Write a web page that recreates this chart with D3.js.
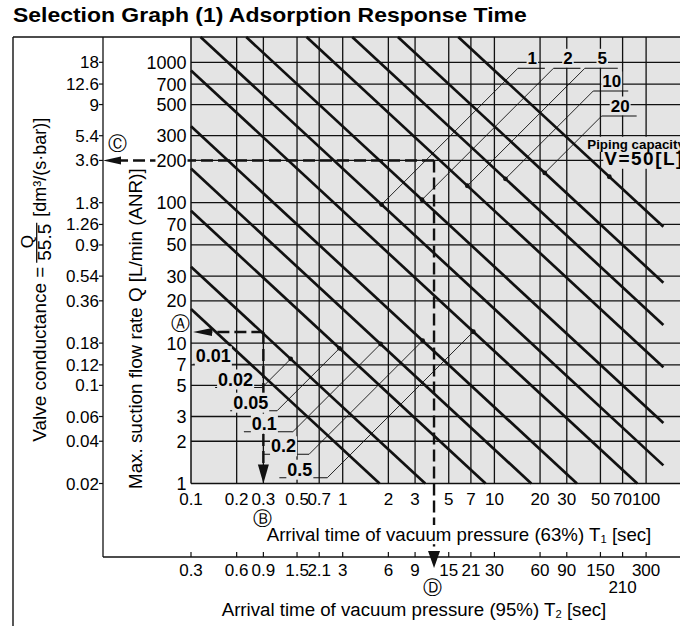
<!DOCTYPE html>
<html><head><meta charset="utf-8">
<script src="https://cdn.jsdelivr.net/npm/d3@7"></script>
<style>
body{margin:0;background:#fff}
svg{display:block;font-family:"Liberation Sans",Arial,Helvetica,sans-serif}
</style>
</head><body>
<svg id="c" width="680" height="626"></svg>
<script>
// ---------------- data ----------------
const tTicks = [0.1,0.2,0.3,0.5,0.7,1,2,3,5,7,10,20,30,50,70,100];
const t1Labels = ["0.1","0.2","0.3","0.5","0.7","1","2","3","5","7","10","20","30","50","70","100"];
const t2Labels = ["0.3","0.6","0.9","1.5","2.1","3","6","9","15","21","30","60","90","150","210","300"];
const qTicks = [1,2,3,5,7,10,20,30,50,70,100,200,300,500,700,1000];
const qLabels = ["1","2","3","5","7","10","20","30","50","70","100","200","300","500","700","1000"];
const conductanceLabels = ["0.02","0.04","0.06","0.1","0.12","0.18","0.36","0.54","0.9","1.26","1.8","3.6","5.4","9","12.6","18"];
const pipingCapacities = [0.01,0.02,0.05,0.1,0.2,0.5,1,2,5,10,20,50]; // V [L]
const responseConstant = 175;   // T1 * Q per litre of piping capacity
const lineTmax = 130;           // diagonals stop here
const lowerLabelV = [0.01,0.02,0.05,0.1,0.2,0.5];
const lowerLabelText = ["0.01","0.02","0.05","0.1","0.2","0.5"];
const lowerLabelDotQ = [7.06,7.71,9.18,9.85,10.4,12.05];
const upperLabelV = [1,2,5,10,20];
const upperLabelText = ["1","2","5","10","20"];
const upperLabelDotQ = [97,105,132,148,163];
const pipingLabelV = 50;
const pipingLabelDotQ = 153;
const exampleC = {q:200, t1:4};    // → 3.6 dm3/(s·bar), T2 ≈ 12 s
const exampleA = {q:12, t1:0.3};

// ---------------- layout ----------------
const LAY = {frameLeft:13, top:37, condAxisX:103, plotLeft:191, plotBottom:483.5, right:680, t2AxisY:557};
const lowerUnderlineY = [364.3,387.5,410.7,431.7,454.3,477.7];
const lowerUnderlineLen = [58,47,47,49,45,48];
const upperUnderlineY = [68.3,68.3,68.3,91,116];
const upperUnderlineLen = [27,27,33,35,35];
const PLOT_FILL = "#e4e4e4", INK = "#111";

const svg = d3.select("#c");
const x = d3.scaleLog().domain([0.1,100]).range([191,646.1]);
const y = d3.scaleLog().domain([1,1000]).range([LAY.plotBottom,62.3]);
const qTop = y.invert(LAY.top);

const gBg = svg.append("g"), gGrid = svg.append("g"), gLabBg = svg.append("g"),
      gDiag = svg.append("g"), gLead = svg.append("g"), gDash = svg.append("g"),
      gTxtBg = svg.append("g"), gText = svg.append("g");

function fitFont(sel, target){
  const w = sel.node().getComputedTextLength();
  const fs = +sel.attr("font-size");
  sel.attr("font-size", fs*target/w);
}
function bgBox(sel, layer, fill, pad){
  const b = sel.node().getBBox();
  layer.append("rect").attr("x",b.x-pad).attr("y",b.y-pad+1).attr("width",b.width+2*pad).attr("height",b.height+2*pad-2).attr("fill",fill);
}
function seg(g,x1,y1,x2,y2,w,extra){
  const l = g.append("line").attr("x1",x1).attr("y1",y1).attr("x2",x2).attr("y2",y2)
    .attr("stroke",INK).attr("stroke-width",w);
  if(extra) l.attr("stroke-dasharray",extra);
  return l;
}
function arrowHead(g,tx,ty,dir,len,hw){
  let pts;
  if(dir==="left") pts=[[tx,ty],[tx+len,ty-hw],[tx+len,ty+hw]];
  else pts=[[tx,ty],[tx-hw,ty-len],[tx+hw,ty-len]];
  g.append("path").attr("d","M"+pts.map(p=>p.join(",")).join("L")+"Z").attr("fill",INK);
}
function circled(txt,cx,cy){
  gText.append("text").attr("x",cx).attr("y",cy).attr("text-anchor","middle")
    .attr("dominant-baseline","central").attr("font-family","DejaVu Sans").attr("font-size",19).text(txt);
}

// ---------------- frame & plot ----------------
gBg.append("rect").attr("x",LAY.plotLeft).attr("y",LAY.top)
  .attr("width",LAY.right-LAY.plotLeft).attr("height",LAY.plotBottom-LAY.top).attr("fill",PLOT_FILL);

tTicks.slice(1).forEach(t=>seg(gGrid,x(t),LAY.top,x(t),LAY.plotBottom,1.3));
qTicks.slice(1).forEach(q=>seg(gGrid,LAY.plotLeft,y(q),LAY.right,y(q),1.3));
seg(gGrid,LAY.frameLeft,LAY.top,LAY.right,LAY.top,1.4);
seg(gGrid,LAY.frameLeft,LAY.top,LAY.frameLeft,626,1.4);
seg(gGrid,LAY.plotLeft,LAY.top,LAY.plotLeft,LAY.plotBottom,1.5);
seg(gGrid,LAY.plotLeft,LAY.plotBottom,LAY.right,LAY.plotBottom,1.5);
seg(gGrid,LAY.condAxisX,LAY.top,LAY.condAxisX,LAY.t2AxisY,1.3);
seg(gGrid,LAY.condAxisX,LAY.t2AxisY,LAY.right,LAY.t2AxisY,1.3);

// ---------------- diagonals ----------------
const lineGen = d3.line().x(d=>x(d[0])).y(d=>y(d[1]));
pipingCapacities.forEach(v=>{
  const P = responseConstant*v;
  const ta = Math.max(0.1,P/qTop), tb = Math.min(lineTmax,P/1);
  gDiag.append("path").attr("d",lineGen([[ta,P/ta],[tb,P/tb]]))
    .attr("fill","none").attr("stroke",INK).attr("stroke-width",2.7);
});

// ---------------- axes text ----------------
qTicks.forEach((q,i)=>{
  const t = gText.append("text").attr("x",186.5).attr("y",y(q)+6.5).attr("text-anchor","end")
    .attr("font-size",18).text(qLabels[i]);
  bgBox(t,gTxtBg,"#fff",1);
});
qTicks.forEach((q,i)=>{
  seg(gGrid,LAY.condAxisX-4,y(q),LAY.condAxisX,y(q),1.2);
  gText.append("text").attr("x",99).attr("y",y(q)+6).attr("text-anchor","end")
    .attr("font-size",17).text(conductanceLabels[i]);
});
tTicks.forEach((t,i)=>{
  gText.append("text").attr("x",x(t)).attr("y",505).attr("text-anchor","middle")
    .attr("font-size",17).text(t1Labels[i]);
});
tTicks.forEach((t,i)=>{
  seg(gGrid,x(t),LAY.t2AxisY-5,x(t),LAY.t2AxisY,1.2);
  const lower = t2Labels[i]==="210";
  gText.append("text").attr("x",x(t)).attr("y",lower?593:576).attr("text-anchor","middle")
    .attr("font-size",17).text(t2Labels[i]);
});

// titles
const title = gText.append("text").attr("x",0).attr("y",0).attr("font-size",20).attr("font-weight","bold")
  .text("Selection Graph (1) Adsorption Response Time");
{ const w = title.node().getComputedTextLength();
  title.attr("transform",`translate(13,22) scale(${514/w},1)`); }

const t1t = gText.append("text").attr("x",459).attr("y",541).attr("text-anchor","middle").attr("font-size",17);
t1t.append("tspan").text("Arrival time of vacuum pressure (63%) T");
t1t.append("tspan").attr("font-size","0.6em").attr("dy","0.2em").text("1");
t1t.append("tspan").attr("dy","-0.12em").text(" [sec]");
fitFont(t1t,385);
bgBox(t1t,gTxtBg,"#fff",0);

const t2t = gText.append("text").attr("x",414).attr("y",616).attr("text-anchor","middle").attr("font-size",17);
t2t.append("tspan").text("Arrival time of vacuum pressure (95%) T");
t2t.append("tspan").attr("font-size","0.6em").attr("dy","0.2em").text("2");
t2t.append("tspan").attr("dy","-0.12em").text(" [sec]");
fitFont(t2t,385);

const gq = gText.append("g").attr("transform","translate(142,489) rotate(-90)");
fitFont(gq.append("text").attr("font-size",18).text("Max. suction flow rate Q [L/min (ANR)]"),321);

const gc = gText.append("g").attr("transform","translate(46,441.7) rotate(-90)");
fitFont(gc.append("text").attr("font-size",17).text("Valve conductance ="),175);
gc.append("text").attr("x",200).attr("y",-13).attr("text-anchor","middle").attr("font-size",17).text("Q");
gc.append("line").attr("x1",179).attr("x2",219).attr("y1",-9.3).attr("y2",-9.3).attr("stroke",INK).attr("stroke-width",1.3);
const den = gc.append("text").attr("x",181).attr("y",4.5).attr("font-size",17).text("55.5");
fitFont(den,37);
fitFont(gc.append("text").attr("x",225).attr("y",0).attr("font-size",17).text("[dm³/(s·bar)]"),99);

// ---------------- capacity labels ----------------
upperLabelV.forEach((v,i)=>{
  const q = upperLabelDotQ[i], t = responseConstant*v/q;
  const dx = x(t), dy = y(q), uy = upperUnderlineY[i], ex = dx+(dy-uy), len = upperUnderlineLen[i];
  seg(gLead,dx,dy,ex,uy,0.9);
  seg(gLead,ex,uy,ex+len,uy,1.1);
  gLead.append("circle").attr("cx",dx).attr("cy",dy).attr("r",2.4).attr("fill",INK);
  const tx = gText.append("text").attr("x",ex+len/2+1).attr("y",uy-4.5).attr("text-anchor","middle")
    .attr("font-size",17).attr("font-weight","bold").text(upperLabelText[i]);
  bgBox(tx,gLabBg,PLOT_FILL,1);
});
lowerLabelV.forEach((v,i)=>{
  const q = lowerLabelDotQ[i], t = responseConstant*v/q;
  const dx = x(t), dy = y(q), uy = lowerUnderlineY[i], ex = dx-(uy-dy), len = lowerUnderlineLen[i];
  if(uy-dy>1){
    seg(gLead,dx,dy,ex,uy,0.9);
    gLead.append("circle").attr("cx",dx).attr("cy",dy).attr("r",2.4).attr("fill",INK);
  }
  seg(gLead,ex-len,uy,ex,uy,1.1);
  const tx = gText.append("text").attr("x",ex-len+Math.min(len,47)/2-3).attr("y",uy-2).attr("text-anchor","middle")
    .attr("font-size",18).attr("font-weight","bold").text(lowerLabelText[i]);
  bgBox(tx,gTxtBg,PLOT_FILL,1);
});
{
  const t = responseConstant*pipingLabelV/pipingLabelDotQ, dx = x(t), dy = y(pipingLabelDotQ);
  gLead.append("circle").attr("cx",dx).attr("cy",dy).attr("r",2.4).attr("fill",INK);
  const a = gText.append("text").attr("x",dx-22).attr("y",dy-28).attr("font-size",13.3).attr("font-weight","bold").text("Piping capacity");
  const b = gText.append("text").attr("x",dx-5).attr("y",dy-12).attr("font-size",19).attr("font-weight","bold")
    .attr("letter-spacing",1.5).text("V=50[L]");
  bgBox(a,gLabBg,PLOT_FILL,1); bgBox(b,gLabBg,PLOT_FILL,1);
}

// ---------------- worked examples (dashed) ----------------
const DASH = "12,5";
{
  const cx = x(exampleC.t1), cy = y(exampleC.q);
  seg(gDash,cx,cy,LAY.condAxisX+17,cy,2.4,DASH);
  arrowHead(gDash,LAY.condAxisX,cy,"left",18,4);
  seg(gDash,cx,cy,cx,LAY.t2AxisY-6,2.4,DASH);
  arrowHead(gDash,cx,LAY.t2AxisY+11,"down",17,6);
  circled("Ⓒ",LAY.condAxisX+14,cy-17);
  circled("Ⓓ",cx-2,587);
}
{
  const ax = x(exampleA.t1), ay = y(exampleA.q);
  seg(gDash,ax,ay,x(0.1)+20,ay,2.4,DASH);
  arrowHead(gDash,x(0.1)+2,ay,"left",19,4);
  seg(gDash,ax,ay,ax,LAY.plotBottom-18,2.4,DASH);
  arrowHead(gDash,ax,LAY.plotBottom,"down",19,5.5);
  circled("Ⓐ",LAY.plotLeft-11,ay-9);
  circled("Ⓑ",ax-1,518);
}
</script>
</body></html>
